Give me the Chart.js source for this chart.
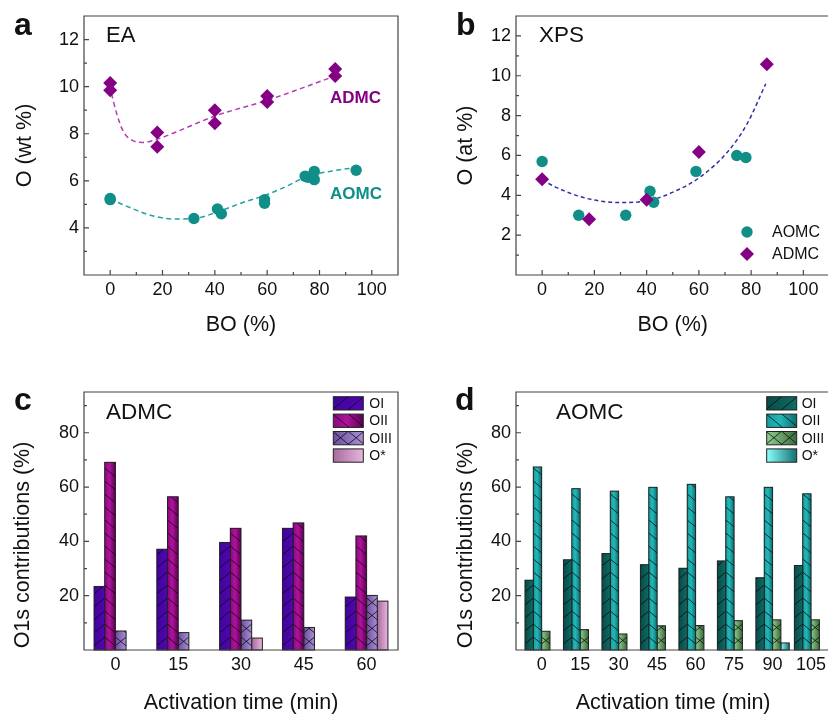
<!DOCTYPE html>
<html>
<head>
<meta charset="utf-8">
<title>O content and O1s contributions</title>
<script src="https://cdn.jsdelivr.net/npm/chart.js@4.4.1/dist/chart.umd.min.js"></script>
<style>
  html, body { margin: 0; padding: 0; background: #fff; overflow: hidden; }
  #page { position: relative; width: 828px; height: 716px; overflow: hidden;
          font-family: "Liberation Sans", Arial, sans-serif; color: #111; }
  .panel { position: absolute; }
  .note { position: absolute; white-space: nowrap; line-height: 1; }
</style>
</head>
<body>
<div id="page">
  <div class="panel" style="left:0;top:0"><canvas id="chA" width="414" height="340"></canvas></div>
  <div class="panel" style="left:414px;top:0"><canvas id="chB" width="432" height="340"></canvas></div>
  <div class="panel" style="left:0;top:340px"><canvas id="chC" width="414" height="376"></canvas></div>
  <div class="panel" style="left:414px;top:340px"><canvas id="chD" width="432" height="376"></canvas></div>
</div>
<script>
// ---- data: panel a (EA) ----
const eaAdmcX = [0, 0, 18, 18, 40, 40, 60, 60, 86, 86];
const eaAdmcY = [10.15, 9.85, 8.05, 7.45, 9.0, 8.45, 9.6, 9.35, 10.75, 10.45];
const eaAomcX = [0, 0, 32, 41, 42.5, 59, 59, 74.5, 75.5, 78, 78, 94];
const eaAomcY = [5.25, 5.2, 4.4, 4.8, 4.6, 5.2, 5.05, 6.2, 6.15, 6.4, 6.05, 6.45];
// dashed guide curves
const eaAdmcFitX = [0.5, 2.5, 5, 8.5, 12.5, 17.5, 24, 40, 60, 86];
const eaAdmcFitY = [9.7, 8.85, 8.1, 7.72, 7.63, 7.75, 8.02, 8.75, 9.42, 10.45];
const eaAomcFitX = [0, 9, 15, 24, 32, 41, 50, 60, 67.5, 75, 85, 93];
const eaAomcFitY = [5.22, 4.8, 4.55, 4.38, 4.4, 4.68, 5.05, 5.42, 5.77, 6.18, 6.42, 6.55];

// ---- data: panel b (XPS) ----
const xpsAomcX = [0, 14, 32, 41.3, 42.7, 58.9, 74.5, 78];
const xpsAomcY = [5.7, 3.0, 3.0, 4.2, 3.65, 5.2, 6.0, 5.9];
const xpsAdmcX = [0, 18, 40, 60, 86];
const xpsAdmcY = [4.8, 2.8, 3.78, 6.18, 10.58];
const xpsFitX = [0, 8.5, 18.5, 30, 40, 50.5, 60.5, 71, 78.5, 85.6];
const xpsFitY = [4.75, 4.22, 3.8, 3.64, 3.72, 4.18, 4.92, 6.18, 7.6, 9.6];

// ---- data: panel c (ADMC O1s) ----
const admcTimes = ['0', '15', '30', '45', '60'];
const admcOI   = [23.4, 37.1, 39.6, 44.8, 19.5];
const admcOII  = [69.1, 56.4, 44.8, 46.8, 42.0];
const admcOIII = [7.0, 6.4, 11.0, 8.3, 20.1];
const admcOs   = [null, null, 4.4, null, 18.0];

// ---- data: panel d (AOMC O1s) ----
const aomcTimes = [0, 15, 30, 45, 60, 75, 90, 105];
const aomcOI   = [25.7, 33.2, 35.5, 31.4, 30.1, 32.8, 26.6, 31.1];
const aomcOII  = [67.4, 59.4, 58.5, 59.9, 61.0, 56.4, 59.9, 57.5];
const aomcOIII = [6.9, 7.5, 5.9, 8.9, 9.0, 10.8, 11.1, 11.1];
const aomcOs   = [null, null, null, null, null, null, 2.6, null];

// ---- tick values ----
const boTicks = [0, 20, 40, 60, 80, 100];
const boMinor = [10, 30, 50, 70, 90];
const eaYTicks = [4, 6, 8, 10, 12];
const eaYMinor = [3, 5, 7, 9, 11, 13];
const xpsYTicks = [2, 4, 6, 8, 10, 12];
const xpsYMinor = [1, 3, 5, 7, 9, 11];
const o1sTicks = [20, 40, 60, 80];
const o1sMinor = [10, 30, 50, 70, 90];

const FONT = '"Liberation Sans", Arial, sans-serif';
Chart.defaults.font.family = FONT;
Chart.defaults.color = '#111';
Chart.defaults.animation = false;

const TEAL = '#0f8f88';
const PURPLE = '#840084';

// bar looks: horizontal gradient + hatch
const skins = {
  admcOI:   { c0: '#40049c', c1: '#5006b0', hatch: '/' },
  admcOII:  { c0: '#8a0a80', c1: '#b0129c', c2: '#5c0054', hatch: '\\' },
  admcOIII: { c0: '#6a4f9e', c1: '#a990d2', hatch: 'x' },
  admcOs:   { c0: '#a86aa0', c1: '#e6b6de', hatch: '' },
  aomcOI:   { c0: '#064c47', c1: '#0e6c66', hatch: '/' },
  aomcOII:  { c0: '#159e9e', c1: '#22b8b8', c2: '#0a6e6e', hatch: '\\' },
  aomcOIII: { c0: '#8fd08f', c1: '#3a6a3a', hatch: 'x' },
  aomcOs:   { c0: '#8cffff', c1: '#127070', hatch: '' }
};

const zip = (xs, ys) => xs.map((x, i) => ({ x: x, y: ys[i] }));

function paintSkin(ctx, L, T, W, H, skin) {
  const g = ctx.createLinearGradient(L, 0, L + W, 0);
  g.addColorStop(0, skin.c0);
  if (skin.c2) { g.addColorStop(0.45, skin.c1); g.addColorStop(1, skin.c2); }
  else g.addColorStop(1, skin.c1);
  ctx.save();
  ctx.fillStyle = g;
  ctx.fillRect(L, T, W, H);
  ctx.beginPath();
  ctx.rect(L, T, W, H);
  ctx.clip();
  const B = T + H, k = 0.83, gap = 13;
  ctx.beginPath();
  if (skin.hatch === '/' || skin.hatch === 'x') {
    for (let c = B + k * W + gap; c > T - gap; c -= gap) {
      ctx.moveTo(L, c); ctx.lineTo(L + W, c - k * W);
    }
  }
  if (skin.hatch === '\\' || skin.hatch === 'x') {
    for (let c = B + gap; c > T - k * W - gap; c -= gap) {
      ctx.moveTo(L, c); ctx.lineTo(L + W, c + k * W);
    }
  }
  ctx.strokeStyle = 'rgba(15,0,15,0.85)';
  ctx.lineWidth = 0.9;
  ctx.stroke();
  ctx.restore();
  ctx.save();
  ctx.strokeStyle = '#222';
  ctx.lineWidth = 1;
  ctx.strokeRect(L, T, W, H);
  ctx.restore();
}

// decorate bars drawn by Chart.js
const barSkin = {
  id: 'barSkin',
  afterDatasetDraw(chart, args) {
    const ds = chart.data.datasets[args.index];
    if (!ds.skin) return;
    args.meta.data.forEach(bar => {
      const p = bar.getProps(['x', 'y', 'base', 'width'], true);
      const top = Math.min(p.y, p.base), h = Math.abs(p.base - p.y);
      if (!isFinite(h) || h < 0.5) return;
      paintSkin(chart.ctx, p.x - p.width / 2, top, p.width, h, ds.skin);
    });
  }
};

// box frame + inward tick marks
function makeFrame(spec) {
  return {
    id: 'frame',
    afterDraw(chart) {
      const { ctx, chartArea: a } = chart;
      const xs = chart.scales.x, ys = chart.scales.y;
      ctx.save();
      ctx.strokeStyle = '#454545';
      ctx.lineWidth = 1.2;
      ctx.beginPath();
      const tx = (vals, len) => vals.forEach(v => {
        const p = xs.getPixelForValue(v);
        ctx.moveTo(p, a.bottom); ctx.lineTo(p, a.bottom - len);
      });
      const ty = (vals, len) => vals.forEach(v => {
        const p = ys.getPixelForValue(v);
        ctx.moveTo(a.left, p); ctx.lineTo(a.left + len, p);
      });
      tx(spec.xMajor || [], 5); tx(spec.xMinor || [], 3);
      ty(spec.yMajor || [], 5); ty(spec.yMinor || [], 3);
      ctx.rect(a.left, a.top, a.right - a.left, a.bottom - a.top);
      ctx.stroke();
      ctx.restore();
    }
  };
}

function drawMarker(ctx, kind, x, y, color) {
  ctx.fillStyle = color;
  ctx.beginPath();
  if (kind === 'circle') ctx.arc(x, y, 5.7, 0, Math.PI * 2);
  else { ctx.moveTo(x, y - 7); ctx.lineTo(x + 7, y); ctx.lineTo(x, y + 7); ctx.lineTo(x - 7, y); ctx.closePath(); }
  ctx.fill();
}

// hand placed legend
function makeKey(items, box) {
  return {
    id: 'key',
    afterDraw(chart) {
      const ctx = chart.ctx;
      ctx.save();
      ctx.font = box.font;
      ctx.textBaseline = 'middle';
      items.forEach((it, i) => {
        const top = box.y + i * box.pitch;
        if (it.skin) paintSkin(ctx, box.x, top, box.w, box.h, it.skin);
        else drawMarker(ctx, it.marker, box.x + box.w / 2, top + box.h / 2, it.color);
        ctx.fillStyle = '#111';
        ctx.fillText(it.label, box.tx, top + box.h / 2 + 0.5);
      });
      ctx.restore();
    }
  };
}

// rotated y title placed off the plot centre (as in the figure)
function makeSideTitle(text, cx, cy) {
  return {
    id: 'sideTitle',
    afterDraw(chart) {
      const ctx = chart.ctx;
      ctx.save();
      ctx.translate(cx, cy);
      ctx.rotate(-Math.PI / 2);
      ctx.font = '21.5px ' + FONT;
      ctx.fillStyle = '#111';
      ctx.textAlign = 'center';
      ctx.textBaseline = 'middle';
      ctx.fillText(text, 0, 0);
      ctx.restore();
    }
  };
}

function axis(o) {
  const ax = {
    type: o.type || 'linear',
    offset: !!o.offset,
    afterFit: s => {
      if (o.width != null) s.width = o.width;
      if (o.height != null) s.height = o.height;
    },
    grid: { display: false, drawTicks: false },
    border: { display: false },
    ticks: { font: { size: 18 }, color: '#111', padding: o.pad, maxRotation: 0, autoSkip: false },
    title: o.title
      ? { display: true, text: o.title, color: '#111', font: { size: 21.5, lineHeight: 1.2 }, padding: o.titlePad }
      : { display: false }
  };
  if (o.min != null) ax.min = o.min;
  if (o.max != null) ax.max = o.max;
  if (o.ticks) ax.afterBuildTicks = s => { s.ticks = o.ticks.map(v => ({ value: v })); };
  return ax;
}

const baseOpts = (pad, scales) => ({
  responsive: false,
  animation: false,
  layout: { padding: pad },
  plugins: { legend: { display: false }, tooltip: { enabled: false } },
  scales: scales
});

// ---- panel a ----
new Chart(document.getElementById('chA'), {
  type: 'scatter',
  data: {
    datasets: [
      { data: zip(eaAdmcX, eaAdmcY), pointStyle: 'rectRot', pointRadius: 7, backgroundColor: PURPLE, borderWidth: 0, order: 0 },
      { data: zip(eaAomcX, eaAomcY), pointStyle: 'circle', pointRadius: 5.7, backgroundColor: TEAL, borderWidth: 0, order: 1 },
      { data: zip(eaAdmcFitX, eaAdmcFitY), showLine: true, pointRadius: 0, borderColor: '#b23cb2', borderWidth: 1.5,
        borderDash: [5, 3.5], cubicInterpolationMode: 'monotone', order: 2 },
      { data: zip(eaAomcFitX, eaAomcFitY), showLine: true, pointRadius: 0, borderColor: '#1fa3a0', borderWidth: 1.5,
        borderDash: [5, 3.5], cubicInterpolationMode: 'monotone', order: 2 }
    ]
  },
  options: baseOpts({ top: 16, right: 16, left: 0, bottom: 0 }, {
    x: axis({ min: -10, max: 110, ticks: boTicks, height: 65, pad: 4, title: 'BO (%)', titlePad: { top: 0, bottom: 2.1 } }),
    y: axis({ min: 2, max: 13, ticks: eaYTicks, width: 84, pad: 5, title: 'O (wt %)', titlePad: { top: 12, bottom: 0 } })
  }),
  plugins: [makeFrame({ xMajor: boTicks, xMinor: boMinor, yMajor: eaYTicks, yMinor: eaYMinor })]
});

// ---- panel b ----
new Chart(document.getElementById('chB'), {
  type: 'scatter',
  data: {
    datasets: [
      { data: zip(xpsAdmcX, xpsAdmcY), pointStyle: 'rectRot', pointRadius: 7, backgroundColor: PURPLE, borderWidth: 0, order: 0 },
      { data: zip(xpsAomcX, xpsAomcY), pointStyle: 'circle', pointRadius: 5.7, backgroundColor: TEAL, borderWidth: 0, order: 1 },
      { data: zip(xpsFitX, xpsFitY), showLine: true, pointRadius: 0, borderColor: '#2f2fa5', borderWidth: 1.5,
        borderDash: [4, 3], cubicInterpolationMode: 'monotone', order: 2 }
    ]
  },
  options: baseOpts({ top: 16, right: 16.5, left: 0, bottom: 0 }, {
    x: axis({ min: -10, max: 110, ticks: boTicks, height: 65, pad: 4, title: 'BO (%)', titlePad: { top: 0, bottom: 2.1 } }),
    y: axis({ min: 0, max: 13, ticks: xpsYTicks, width: 102, pad: 5, title: 'O (at %)', titlePad: { top: 38.8, bottom: 0 } })
  }),
  plugins: [
    makeFrame({ xMajor: boTicks, xMinor: boMinor, yMajor: xpsYTicks, yMinor: xpsYMinor }),
    makeKey([
      { label: 'AOMC', marker: 'circle', color: TEAL },
      { label: 'ADMC', marker: 'diamond', color: PURPLE }
    ], { x: 323, y: 222, w: 20, h: 20, pitch: 22, tx: 358, font: '16px ' + FONT })
  ]
});

// ---- panel c ----
new Chart(document.getElementById('chC'), {
  type: 'bar',
  data: {
    labels: admcTimes,
    datasets: [
      { label: 'OI', data: admcOI, skin: skins.admcOI, backgroundColor: skins.admcOI.c0 },
      { label: 'OII', data: admcOII, skin: skins.admcOII, backgroundColor: skins.admcOII.c0 },
      { label: 'OIII', data: admcOIII, skin: skins.admcOIII, backgroundColor: skins.admcOIII.c0 },
      { label: 'O*', data: admcOs, skin: skins.admcOs, backgroundColor: skins.admcOs.c0 }
    ]
  },
  options: Object.assign(baseOpts({ top: 52, right: 16, left: 0, bottom: 0 }, {
    x: axis({ type: 'category', offset: true, height: 66, pad: 4, title: 'Activation time (min)', titlePad: { top: 0, bottom: 0.1 } }),
    y: axis({ min: 0, max: 95, ticks: o1sTicks, width: 84, pad: 5 })
  }), { datasets: { bar: { categoryPercentage: 0.68, barPercentage: 1, borderWidth: 0 } } }),
  plugins: [
    barSkin,
    makeFrame({ yMajor: o1sTicks, yMinor: o1sMinor }),
    makeSideTitle('O1s contributions (%)', 23, 205),
    makeKey([
      { label: 'OI', skin: skins.admcOI },
      { label: 'OII', skin: skins.admcOII },
      { label: 'OIII', skin: skins.admcOIII },
      { label: 'O*', skin: skins.admcOs }
    ], { x: 333.3, y: 56.7, w: 30, h: 13.3, pitch: 17.4, tx: 369.3, font: '14px ' + FONT })
  ]
});

// ---- panel d ----
new Chart(document.getElementById('chD'), {
  type: 'bar',
  data: {
    datasets: [
      { label: 'OI', data: zip(aomcTimes, aomcOI), skin: skins.aomcOI, backgroundColor: skins.aomcOI.c0 },
      { label: 'OII', data: zip(aomcTimes, aomcOII), skin: skins.aomcOII, backgroundColor: skins.aomcOII.c0 },
      { label: 'OIII', data: zip(aomcTimes, aomcOIII), skin: skins.aomcOIII, backgroundColor: skins.aomcOIII.c0 },
      { label: 'O*', data: zip(aomcTimes, aomcOs), skin: skins.aomcOs, backgroundColor: skins.aomcOs.c0 }
    ]
  },
  options: Object.assign(baseOpts({ top: 52, right: 15.7, left: 0, bottom: 0 }, {
    x: axis({ min: -10, max: 112.5, ticks: aomcTimes, height: 66, pad: 4, title: 'Activation time (min)', titlePad: { top: 0, bottom: 0.1 } }),
    y: axis({ min: 0, max: 95, ticks: o1sTicks, width: 102, pad: 5 })
  }), { datasets: { bar: { categoryPercentage: 0.867, barPercentage: 1, borderWidth: 0 } } }),
  plugins: [
    barSkin,
    makeFrame({ yMajor: o1sTicks, yMinor: o1sMinor }),
    makeSideTitle('O1s contributions (%)', 51.7, 205),
    makeKey([
      { label: 'OI', skin: skins.aomcOI },
      { label: 'OII', skin: skins.aomcOII },
      { label: 'OIII', skin: skins.aomcOIII },
      { label: 'O*', skin: skins.aomcOs }
    ], { x: 352.7, y: 56.7, w: 30, h: 13.3, pitch: 17.4, tx: 387.7, font: '14px ' + FONT })
  ]
});

// ---- panel letters and inset labels (HTML text, placed by baseline) ----
const notes = [
  { t: 'a', x: 14, b: 35, size: 32, bold: true },
  { t: 'EA', x: 106, b: 43, size: 22 },
  { t: 'ADMC', x: 330, b: 103, size: 17, bold: true, color: PURPLE },
  { t: 'AOMC', x: 330, b: 199, size: 17, bold: true, color: TEAL },
  { t: 'b', x: 456, b: 35, size: 32, bold: true },
  { t: 'XPS', x: 539, b: 43, size: 22.5 },
  { t: 'c', x: 14, b: 410, size: 32, bold: true },
  { t: 'ADMC', x: 106, b: 420, size: 22.5 },
  { t: 'd', x: 455, b: 410, size: 32, bold: true },
  { t: 'AOMC', x: 556, b: 420, size: 22.5 }
];
const page = document.getElementById('page');
notes.forEach(n => {
  const el = document.createElement('div');
  el.className = 'note';
  el.textContent = n.t;
  el.style.left = n.x + 'px';
  el.style.top = (n.b - 0.8465 * n.size) + 'px';
  el.style.fontSize = n.size + 'px';
  if (n.bold) el.style.fontWeight = 'bold';
  if (n.color) el.style.color = n.color;
  page.appendChild(el);
});
</script>
</body>
</html>
